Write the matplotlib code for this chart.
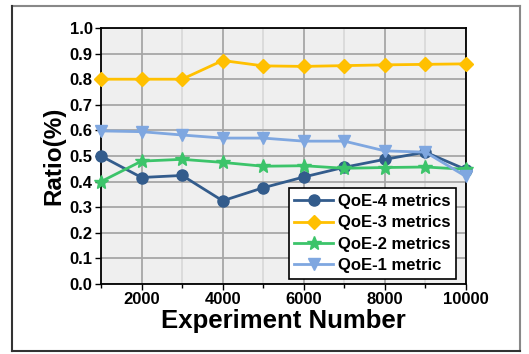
import matplotlib
matplotlib.use("Agg")
import matplotlib.pyplot as plt
from matplotlib.lines import Line2D
from matplotlib.ticker import MultipleLocator

plt.rcParams['font.family'] = ['Liberation Sans', 'DejaVu Sans']
plt.rcParams['font.weight'] = 'bold'

experiments = [1000, 2000, 3000, 4000, 5000, 6000, 7000, 8000, 9000, 10000]
qoe4 = [0.50, 0.416, 0.424, 0.325, 0.376, 0.418, 0.456, 0.487, 0.515, 0.447]
qoe3 = [0.80, 0.80, 0.80, 0.873, 0.852, 0.850, 0.853, 0.856, 0.858, 0.860]
qoe2 = [0.40, 0.480, 0.487, 0.475, 0.460, 0.462, 0.452, 0.455, 0.457, 0.448]
qoe1 = [0.598, 0.595, 0.582, 0.570, 0.570, 0.558, 0.558, 0.520, 0.515, 0.420]

labels = ["QoE-4 metrics", "QoE-3 metrics", "QoE-2 metrics", "QoE-1 metric"]
colors = ["#335c8c", "#ffc000", "#3cc46a", "#7fa7e0"]
markers = ["o", "D", "*", "v"]
msizes = [8, 7.5, 10, 9]

fig = plt.figure(figsize=(5.29, 3.54), dpi=100)
W, H = 529, 354
ax = fig.add_axes([101 / W, 1 - 284 / H, 365 / W, 256 / H])
ax.set_facecolor("#efefef")

for ys, lab, c, m, ms in zip([qoe4, qoe3, qoe2, qoe1], labels, colors, markers, msizes):
    ax.plot(experiments, ys, color=c, marker=m, markersize=ms, linewidth=2,
            label=lab, clip_on=False, zorder=3)

ax.set_xlim(1000, 10000)
ax.set_ylim(0, 1.0)
ax.xaxis.set_major_locator(MultipleLocator(2000))
ax.xaxis.set_minor_locator(MultipleLocator(1000))
ax.yaxis.set_major_locator(MultipleLocator(0.1))
ax.set_yticklabels([f"{v:.1f}" for v in ax.get_yticks()])

ax.grid(which="major", color="#a6a6a6", linewidth=1.3, zorder=0)
ax.grid(which="minor", axis="x", color="#d9d9d9", linewidth=1.3, zorder=0)
ax.set_axisbelow(True)

for s in ax.spines.values():
    s.set_color("black")
    s.set_linewidth(1.3)

ax.tick_params(which="both", direction="out", length=4.5, width=1, labelsize=12, pad=1.5)
ax.tick_params(which="minor", length=3)
for t in ax.get_xticklabels() + ax.get_yticklabels():
    t.set_fontweight("bold")

ax.set_xlabel("Experiment Number", fontsize=18.5, fontweight="bold", labelpad=1)
ax.set_ylabel("Ratio(%)", fontsize=17.5, fontweight="bold", labelpad=3)

leg = ax.legend(loc="lower right", bbox_to_anchor=(0.973, 0.02), borderaxespad=0,
                fancybox=False, edgecolor="black", framealpha=1,
                prop={"size": 12, "weight": "bold"}, handlelength=2.3,
                labelspacing=0.38, borderpad=0.35, handletextpad=0.3)
leg.get_frame().set_linewidth(1.2)

# outer frame around the figure
x0, x1 = 12 / W, 520 / W
y0, y1 = 1 - 351 / H, 1 - 6 / H
fig.add_artist(Line2D([x0, x1], [y1, y1], color="#888888", lw=1.5, transform=fig.transFigure))
fig.add_artist(Line2D([x1, x1], [y0, y1], color="#888888", lw=1.5, transform=fig.transFigure))
fig.add_artist(Line2D([x0, x0], [y0, y1], color="#333333", lw=1.5, transform=fig.transFigure))
fig.add_artist(Line2D([x0, x1], [y0, y0], color="#333333", lw=1.5, transform=fig.transFigure))

fig.savefig("out.png", dpi=100)
